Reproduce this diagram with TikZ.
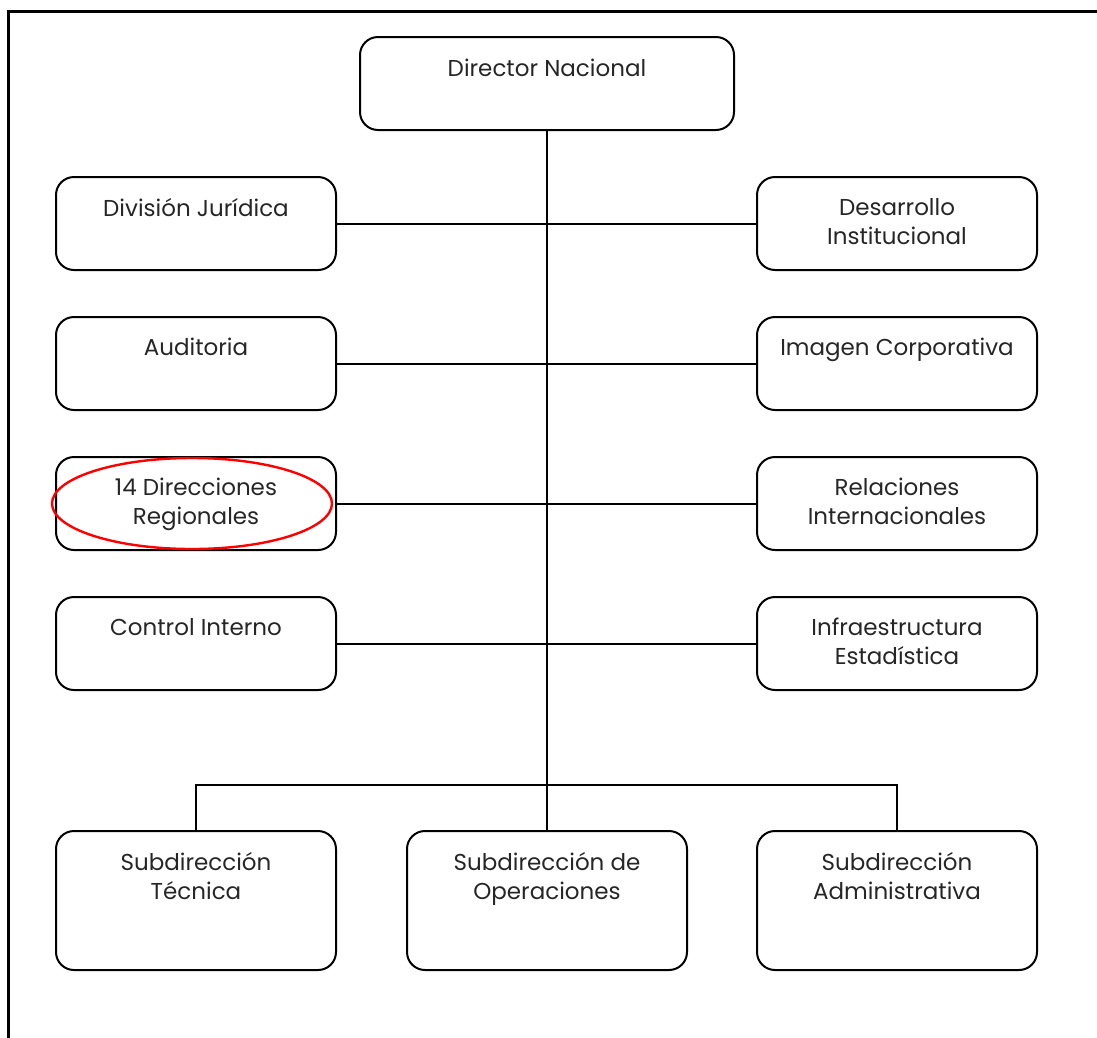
\documentclass[tikz,border=0pt]{standalone}
\usepackage{fontspec}
\setmainfont{Poppins}
\begin{document}
\begin{tikzpicture}[x=1pt,y=1pt,
  box/.style={draw=black, line width=2pt, rounded corners=18pt, minimum width=280pt, minimum height=93pt, inner sep=0pt},
  lbl/.style={anchor=north, inner sep=0pt, align=center, font=\fontsize{23}{29}\selectfont, text=black!85},
  conn/.style={line width=2pt}]
\useasboundingbox (0,0) rectangle (1097,-1037);
% frame
\draw[line width=3pt] (8.5,-1040) -- (8.5,-11) -- (1100,-11);
% boxes
\node[box, minimum width=374pt] (dn) at (547,-83.5) {};
\node[box] (dj) at (196,-223.5) {};
\node[box] (di) at (897,-223.5) {};
\node[box] (au) at (196,-363.5) {};
\node[box] (ic) at (897,-363.5) {};
\node[box] (dr) at (196,-503.5) {};
\node[box] (ri) at (897,-503.5) {};
\node[box] (ci) at (196,-643.5) {};
\node[box] (ie) at (897,-643.5) {};
\node[box, minimum height=139pt] (st) at (196,-900.5) {};
\node[box, minimum height=139pt] (so) at (547,-900.5) {};
\node[box, minimum height=139pt] (sa) at (897,-900.5) {};
% labels
\node[lbl] (tdn) at ([yshift=-22.5pt]dn.north) {Director Nacional};
\node[lbl] (tdj) at ([yshift=-22pt]dj.north) {División Jurídica};
\node[lbl] (tdi) at ([yshift=-22pt]di.north) {Desarrollo\\Institucional};
\node[lbl] (tau) at ([yshift=-22pt]au.north) {Auditoria};
\node[lbl] (tic) at ([yshift=-22pt]ic.north) {Imagen Corporativa};
\node[lbl] (tdr) at ([yshift=-22pt]dr.north) {14 Direcciones\\Regionales};
\node[lbl] (tri) at ([yshift=-22pt]ri.north) {Relaciones\\Internacionales};
\node[lbl] (tci) at ([yshift=-22pt]ci.north) {Control Interno};
\node[lbl] (tie) at ([yshift=-22pt]ie.north) {Infraestructura\\Estadística};
\node[lbl] (tst) at ([yshift=-22pt]st.north) {Subdirección\\Técnica};
\node[lbl] (tso) at ([yshift=-22pt]so.north) {Subdirección de\\Operaciones};
\node[lbl] (tsa) at ([yshift=-22pt]sa.north) {Subdirección\\Administrativa};
% connectors
\draw[conn] (dn.south) -- (so.north);
\draw[conn] (dj.east) -- (di.west);
\draw[conn] (au.east) -- (ic.west);
\draw[conn] (dr.east) -- (ri.west);
\draw[conn] (ci.east) -- (ie.west);
\coordinate (bus) at (547,-785);
\draw[conn] (st.north) |- (bus) -| (sa.north);
% highlight
\draw[red, line width=2.4pt] (192,-503.5) ellipse [x radius=140pt, y radius=45.5pt];
\end{tikzpicture}
\end{document}
